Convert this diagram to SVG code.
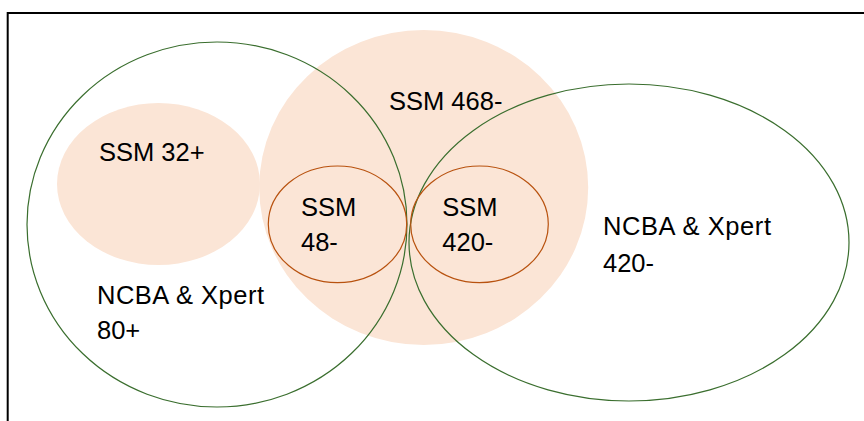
<svg xmlns="http://www.w3.org/2000/svg" width="864" height="421" viewBox="0 0 864 421">
<style>
  .lbl { font-family: "Liberation Sans", Arial, sans-serif; font-size: 25.5px; fill: #000; }
  .peach { fill: #FBE5D6; stroke: none; }
  .green { fill: none; stroke: #3A6E2E; stroke-width: 1.2; }
  .brown { fill: none; stroke: #B8520F; stroke-width: 1.2; }
</style>
<rect width="864" height="421" fill="#fff"/>
<rect x="7.7" y="13" width="900" height="500" fill="none" stroke="#000" stroke-width="2"/>
<g id="ssm468">
  <ellipse class="peach" cx="423.7" cy="187.5" rx="164.5" ry="157.5"/>
  <text class="lbl" x="389" y="110">SSM 468-</text>
</g>
<g id="ssm32">
  <ellipse class="peach" cx="158.5" cy="184" rx="101.5" ry="81"/>
  <text class="lbl" x="99" y="161">SSM 32+</text>
</g>
<g id="ncba80">
  <ellipse class="green" cx="217" cy="224.5" rx="190" ry="182.5"/>
  <text class="lbl" x="97" y="304" textLength="167">NCBA &amp; Xpert</text>
  <text class="lbl" x="97" y="338.5">80+</text>
</g>
<g id="ncba420">
  <ellipse class="green" cx="629" cy="242.5" rx="220" ry="158.5"/>
  <text class="lbl" x="603" y="235" textLength="168">NCBA &amp; Xpert</text>
  <text class="lbl" x="603" y="271.5">420-</text>
</g>
<g id="ssm48">
  <ellipse class="brown" cx="337.5" cy="224.3" rx="69.2" ry="58.3"/>
  <text class="lbl" x="301" y="216">SSM</text>
  <text class="lbl" x="301" y="250.7">48-</text>
</g>
<g id="ssm420">
  <ellipse class="brown" cx="479.5" cy="224.3" rx="68.8" ry="58.3"/>
  <text class="lbl" x="442.3" y="216">SSM</text>
  <text class="lbl" x="442.3" y="250.7">420-</text>
</g>
<g id="connectors"></g>
</svg>
